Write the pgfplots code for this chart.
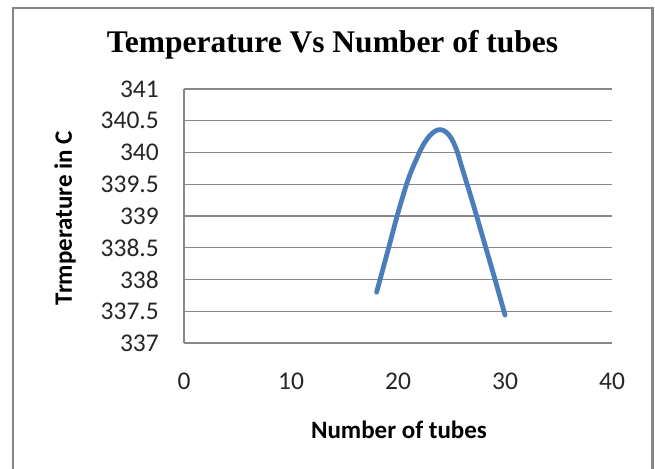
\documentclass[border=0pt]{standalone}
\usepackage{fontspec}
\setmainfont{Carlito}
\newfontfamily\timesfont{Liberation Serif}
\usepackage{pgfplots}
\pgfplotsset{compat=1.18}
\definecolor{excelblue}{HTML}{4A7EBB}
\definecolor{gridgray}{HTML}{878787}
\definecolor{framegray}{HTML}{868686}
\begin{document}
\begin{tikzpicture}[x=1pt,y=1pt]
\useasboundingbox (0,0) rectangle (655,468);
\fill[white] (0,0) rectangle (655,468);
\draw[framegray, line width=2.2pt] (13,-5) -- (13,460) -- (652.5,460) -- (652.5,-5);
\begin{axis}[at={(184pt,125pt)}, anchor=south west, scale only axis,
  width=428pt, height=254pt,
  xmin=0, xmax=40, ymin=337, ymax=341,
  xtick={0,10,20,30,40},
  ytick={337,337.5,338,338.5,339,339.5,340,340.5,341},
  axis x line*=bottom, axis y line*=left,
  axis line style={gridgray, line width=1.3pt},
  ymajorgrids, grid style={gridgray, line width=1.3pt},
  major tick length=0pt,
  /pgf/number format/assume math mode=true,
  tick label style={font=\fontsize{25.5}{30}\selectfont, text=black!85},
  yticklabel style={anchor=east, inner sep=0pt, xshift=-25pt,
    /pgf/number format/.cd, fixed, precision=1},
  xticklabel style={anchor=north, inner sep=0pt, yshift=-30pt},
  clip=false]
\addplot[excelblue, line width=4.8pt, smooth, tension=0.5, line cap=round, line join=round] coordinates {
  (18,337.8) (19,338.42) (20,339.05) (21,339.6) (22,340.0) (22.5,340.16) (23,340.27)
  (23.5,340.34) (24,340.36) (24.5,340.32) (25,340.22) (25.5,340.03) (26,339.75) (27,339.2)
  (28,338.62) (29,338.04) (30,337.44)};
\end{axis}
\node[anchor=base, font=\timesfont\bfseries\fontsize{31.5}{36}\selectfont] at (332.5,415) {Temperature Vs Number of tubes};
\node[font=\bfseries\fontsize{25}{30}\selectfont] at (399,38) {Number of tubes};
\node[rotate=90, font=\bfseries\fontsize{25}{30}\selectfont] at (65,250) {Trmperature in C};
\end{tikzpicture}
\end{document}
